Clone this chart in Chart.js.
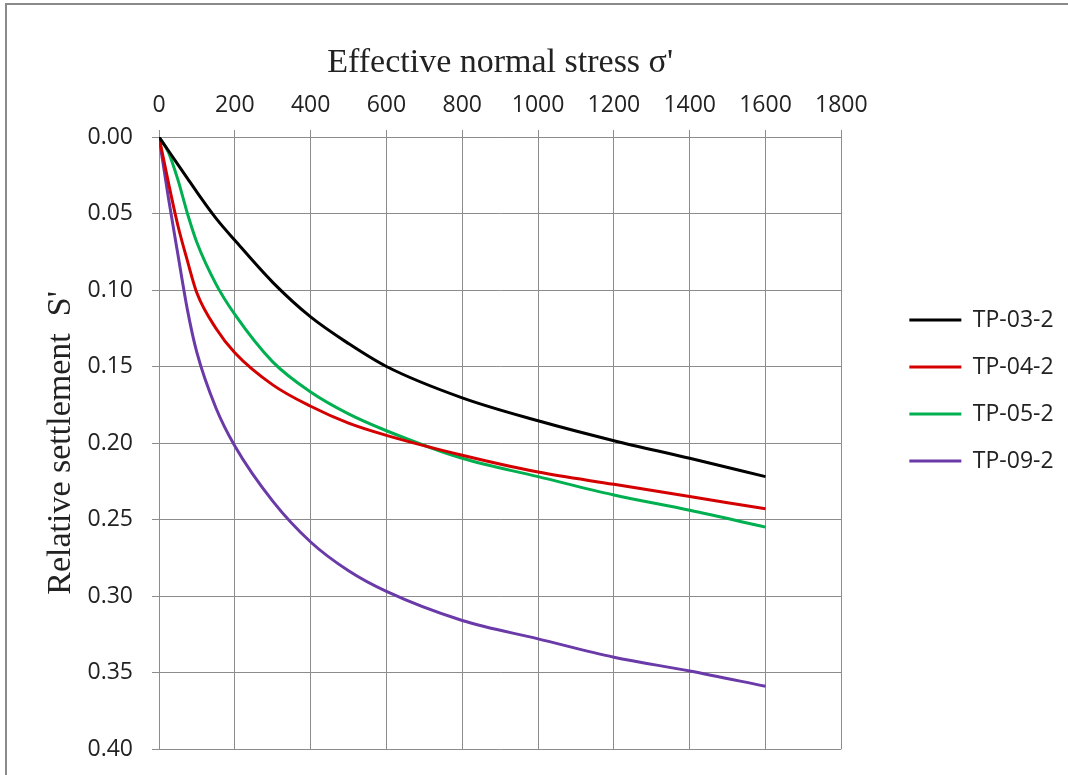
<!DOCTYPE html>
<html>
<head>
<meta charset="utf-8">
<script src="https://cdn.jsdelivr.net/npm/chart.js@4.4.1/dist/chart.umd.min.js"></script>
<style>
  html, body { margin: 0; padding: 0; background: #fff; overflow: hidden; }
  #frame { position: absolute; left: 5px; top: 3px; right: -20px; bottom: -20px;
           border-left: 2px solid #8a8a8a; border-top: 2px solid #8a8a8a; }
  #wrap { position: absolute; left: 0; top: 0; width: 1068px; height: 775px; }
</style>
</head>
<body>
<div id="frame"></div>
<div id="wrap"><canvas id="c"></canvas></div>
<script>
// 有効垂直応力 σ' と相対沈下量 S'
const sigma = [0, 25, 50, 75, 100, 150, 200, 300, 400, 500, 600, 800, 1000, 1200, 1400, 1600];
const tp03 = [0, 0.009, 0.018, 0.027, 0.036, 0.053, 0.0675, 0.095, 0.1176, 0.135, 0.150, 0.1705, 0.1855, 0.1985, 0.210, 0.222];
const tp04 = [0, 0.030, 0.058, 0.081, 0.102, 0.125, 0.141, 0.162, 0.176, 0.187, 0.195, 0.208, 0.219, 0.227, 0.235, 0.243];
const tp05 = [0, 0.010, 0.028, 0.050, 0.069, 0.096, 0.116, 0.147, 0.1667, 0.181, 0.192, 0.210, 0.222, 0.234, 0.244, 0.255];
const tp09 = [0, 0.040, 0.077, 0.113, 0.141, 0.177, 0.202, 0.238, 0.2647, 0.2835, 0.297, 0.316, 0.328, 0.340, 0.349, 0.359];
const names = ['TP-03-2', 'TP-04-2', 'TP-05-2', 'TP-09-2'];
const series = [tp03, tp04, tp05, tp09];
const colors = ['#000000', '#d40000', '#00b050', '#6a3aa8'];

const xTicks = { min: 0, max: 1800, step: 200 };
const yTicks = { min: 0, max: 0.40, step: 0.05 };

const tickFont = { family: '"Open Sans", sans-serif', size: 23 };
const titleFont = { family: '"Liberation Serif", serif', size: 34 };
const gridCol = '#8c8c8c';

new Chart(document.getElementById('c'), {
  type: 'line',
  data: {
    datasets: series.map((s, i) => ({
      label: names[i],
      data: s.map((v, k) => ({ x: sigma[k], y: v })),
      borderColor: colors[i], backgroundColor: colors[i],
      borderWidth: 3, pointRadius: 0, pointStyle: 'line',
      cubicInterpolationMode: 'monotone', fill: false,
    })),
  },
  options: {
    responsive: true, maintainAspectRatio: false, animation: false,
    layout: { padding: { left: 37, top: 32, right: 13, bottom: 26 } },
    plugins: {
      tooltip: { enabled: false },
      legend: {
        position: 'right',
        labels: {
          usePointStyle: true, pointStyle: 'line', pointStyleWidth: 52,
          padding: 24, color: '#222', font: tickFont,
        },
      },
    },
    scales: {
      x: {
        type: 'linear', position: 'top', min: xTicks.min, max: xTicks.max,
        ticks: { stepSize: xTicks.step, color: '#222', font: tickFont, padding: 11, maxRotation: 0, callback: v => String(v) },
        grid: { color: gridCol, tickLength: 7 },
        border: { color: gridCol },
        title: { display: true, text: "Effective normal stress σ'", color: '#222', font: titleFont, padding: { top: 11, bottom: 4 } },
        afterFit: s => { s.height = 105; },
      },
      y: {
        type: 'linear', position: 'left', reverse: true, min: yTicks.min, max: yTicks.max,
        ticks: { stepSize: yTicks.step, color: '#222', font: tickFont, padding: 19, callback: v => v.toFixed(2) },
        grid: { color: gridCol, tickLength: 7 },
        border: { color: gridCol },
        title: { display: true, text: "Relative settlement  S'", color: '#222', font: titleFont, padding: { top: 4, bottom: 4 } },
        afterFit: s => { s.width = 122; s.paddingTop = 14; s.paddingBottom = 14; },
      },
      // 凡例を右に寄せるための空き
      gap: {
        type: 'linear', position: 'right', display: true,
        ticks: { display: false }, grid: { display: false }, border: { display: false },
        afterFit: s => { s.width = 44; },
      },
    },
  },
});
</script>
</body>
</html>
